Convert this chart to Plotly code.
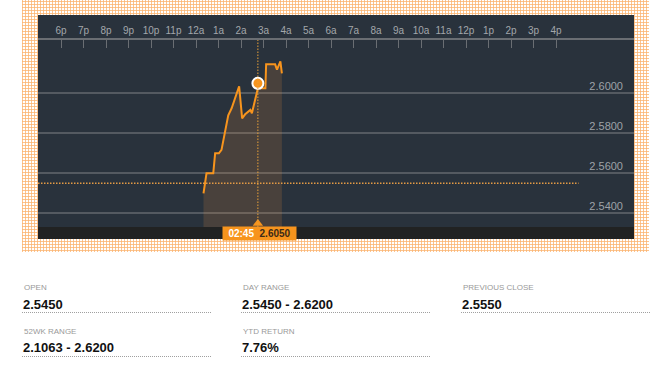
import plotly.graph_objects as go

# ---------------- data ----------------
DAY0 = "2024-01-01"
DAY1 = "2024-01-02"
tick_hours = ["18:00", "19:00", "20:00", "21:00", "22:00", "23:00"]
tick_hours_next = ["00:00", "01:00", "02:00", "03:00", "04:00", "05:00", "06:00", "07:00",
                   "08:00", "09:00", "10:00", "11:00", "12:00", "13:00", "14:00", "15:00", "16:00"]
tick_labels = ["6p", "7p", "8p", "9p", "10p", "11p", "12a", "1a", "2a", "3a", "4a", "5a",
               "6a", "7a", "8a", "9a", "10a", "11a", "12p", "1p", "2p", "3p", "4p"]

times = ["00:20", "00:28", "00:46", "00:51", "01:01", "01:08", "01:26", "01:35", "01:55",
         "02:03", "02:11", "02:25", "02:29", "02:45", "03:05", "03:07", "03:31", "03:36",
         "03:45", "03:49"]
prices = [2.5500, 2.5600, 2.5600, 2.5700, 2.5700, 2.5717, 2.5890, 2.5925, 2.6035,
          2.5875, 2.5895, 2.5917, 2.5900, 2.6025, 2.6025, 2.6145, 2.6145, 2.6118,
          2.6160, 2.6100]

y_ticks = [2.54, 2.56, 2.58, 2.60]
prev_close = 2.5550
prev_close_end = "17:00"
hover_time = "02:45"
hover_price = 2.6050

stat_labels = ["OPEN", "DAY RANGE", "PREVIOUS CLOSE", "52WK RANGE", "YTD RETURN"]
stat_values = ["2.5450", "2.5450 - 2.6200", "2.5550", "2.1063 - 2.6200", "7.76%"]

# ---------------- build ----------------
W, H = 661, 371
ORANGE = "#f7941d"
PANEL = "#29323c"

xt = [f"{DAY0} {t}" for t in tick_hours] + [f"{DAY1} {t}" for t in tick_hours_next]
xs = [f"{DAY1} {t}" for t in times]
x_range = [f"{DAY0} 16:58:40", f"{DAY1} 19:28:00"]
y_range = [2.53315, 2.62665]

fig = go.Figure()

# decorative background on a pixel subplot (xy)
fig.add_trace(go.Scatter(
    x=[22, 649, 649, 22, 22], y=[0, 0, 252, 252, 0], mode="lines",
    line=dict(width=0), fill="toself", fillcolor="rgba(0,0,0,0)",
    fillpattern=dict(shape="+", fgcolor="#fbb36e", bgcolor="#ffffff", size=3, solidity=0.45),
    hoverinfo="skip", xaxis="x", yaxis="y"))
fig.add_trace(go.Scatter(
    x=[38, 634, 634, 38, 38], y=[15, 15, 239, 239, 15], mode="lines",
    line=dict(width=0), fill="toself", fillcolor=PANEL,
    hoverinfo="skip", xaxis="x", yaxis="y"))
fig.add_trace(go.Scatter(
    x=[38, 634, 634, 38, 38], y=[227, 227, 239, 239, 227], mode="lines",
    line=dict(width=0), fill="toself", fillcolor="#212222",
    hoverinfo="skip", xaxis="x", yaxis="y"))

# price line
fig.add_trace(go.Scatter(
    x=xs, y=prices, mode="lines", line=dict(color=ORANGE, width=2),
    fill="tozeroy", fillcolor="rgba(240,150,60,0.16)",
    hoverinfo="skip", xaxis="x2", yaxis="y2"))

# hover marker
fig.add_trace(go.Scatter(
    x=[f"{DAY1} {hover_time}"], y=[hover_price], mode="markers",
    marker=dict(color=ORANGE, size=11, line=dict(color="#ffffff", width=2)),
    hoverinfo="skip", xaxis="x2", yaxis="y2", cliponaxis=False))

# pointer triangle at bottom of crosshair
fig.add_trace(go.Scatter(
    x=[f"{DAY1} {hover_time}"], y=[y_range[0] + 0.0018], mode="markers",
    marker=dict(color=ORANGE, size=9, symbol="triangle-up"),
    hoverinfo="skip", xaxis="x2", yaxis="y2", cliponaxis=False))

shapes = [
    dict(type="line", xref="x2", yref="y2", layer="above",
         x0=x_range[0], x1=f"{DAY1} {prev_close_end}", y0=prev_close, y1=prev_close,
         line=dict(color="#e39a45", width=1.5, dash="1.5px,1.5px")),
    dict(type="line", xref="x2", yref="y2", layer="above",
         x0=f"{DAY1} {hover_time}", x1=f"{DAY1} {hover_time}", y0=y_range[0], y1=y_range[1],
         line=dict(color="#e8a13a", width=1, dash="1.5px,1.5px")),
]

annotations = [
    dict(xref="x2", yref="paper", x=f"{DAY1} {hover_time}", y=1 - 233.3 / H, xshift=2,
         text="<b><span style='color:#ffffff'>02:45</span>  <span style='color:#3b2a18'>"
              + f"{hover_price:.4f}" + "</span></b>",
         showarrow=False, bgcolor=ORANGE, width=73, height=13, borderpad=0,
         font=dict(family="Liberation Sans", size=10), xanchor="center", yanchor="middle"),
]

col_x = [22, 241, 461, 22, 241]
row_y = [0, 0, 0, 1, 1]
for lab, val, cx, r in zip(stat_labels, stat_values, col_x, row_y):
    ly = 287 + r * 44
    vy = 304 + r * 43
    uy = 312.5 + r * 44
    annotations.append(dict(xref="paper", yref="paper", x=cx / W, y=1 - ly / H, text=lab,
                            showarrow=False, xanchor="left", yanchor="middle",
                            font=dict(family="Liberation Sans", size=8, color="#999999")))
    annotations.append(dict(xref="paper", yref="paper", x=(cx - 1) / W, y=1 - vy / H,
                            text=f"<b>{val}</b>", showarrow=False, xanchor="left",
                            yanchor="middle",
                            font=dict(family="Liberation Sans", size=13, color="#111111")))
    shapes.append(dict(type="line", xref="paper", yref="paper", layer="above",
                       x0=cx / W, x1=(cx + 189) / W, y0=1 - uy / H, y1=1 - uy / H,
                       line=dict(color="#a0a0a0", width=1, dash="1px,1px")))

fig.update_layout(
    template="none",
    width=W, height=H,
    margin=dict(l=0, r=0, t=0, b=0),
    paper_bgcolor="#ffffff", plot_bgcolor="rgba(0,0,0,0)",
    showlegend=False, hovermode=False,
    shapes=shapes, annotations=annotations,
    xaxis=dict(domain=[0, 1], range=[0, W], visible=False, fixedrange=True),
    yaxis=dict(domain=[0, 1], range=[H, 0], visible=False, fixedrange=True),
    xaxis2=dict(domain=[38 / W, 634 / W], anchor="y2", side="top", type="date",
                range=x_range, tickvals=xt, ticktext=tick_labels,
                ticks="inside", ticklen=8, tickwidth=1, tickcolor="#6a6e73",
                showline=True, linecolor="#6a6e73", linewidth=1.5,
                showgrid=False, zeroline=False, automargin=False,
                tickfont=dict(family="Liberation Sans", size=10, color="#a3a7ab")),
    yaxis2=dict(domain=[1 - 227 / H, 1 - 40 / H], anchor="x2", side="right",
                range=y_range, tickvals=y_ticks, ticktext=[f"{v:.4f}" for v in y_ticks],
                ticklabelposition="inside", ticks="", ticklabelshift=-7, ticklabelstandoff=8,
                showgrid=True, gridcolor="#545a61", gridwidth=1.5,
                showline=False, zeroline=False, automargin=False,
                tickfont=dict(family="Liberation Sans", size=11, color="#9ea3a8")),
)

fig.write_html("out.html", post_script="document.body.style.margin='0';",
               config={"displayModeBar": False})
